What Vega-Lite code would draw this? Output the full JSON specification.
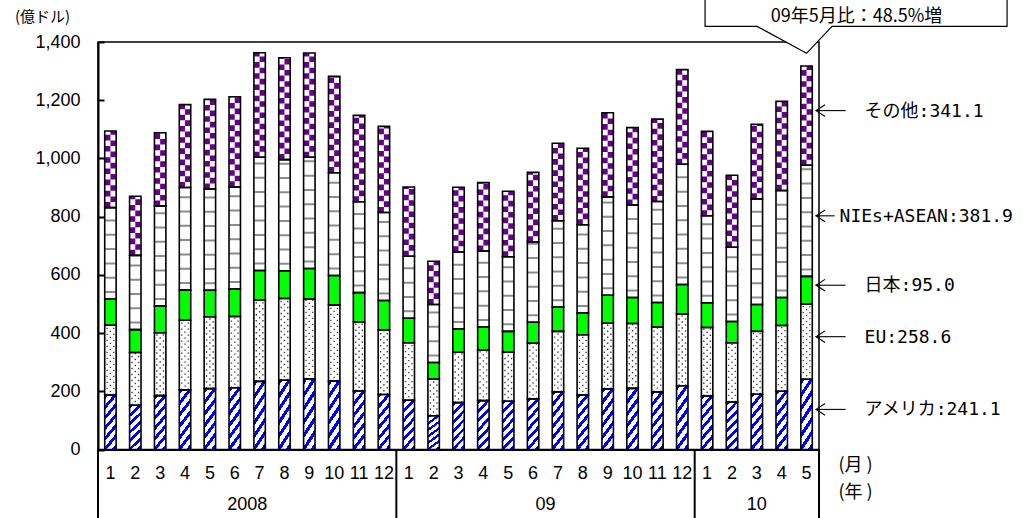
{
  "$schema": "https://vega.github.io/schema/vega-lite/v6.json",
  "width": 721,
  "height": 407.5,
  "autosize": {"type": "none"},
  "padding": {"left": 98, "top": 42, "right": 212, "bottom": 68.5},
  "background": "white",
  "config": {
    "view": {"stroke": "#000", "strokeWidth": 1.5},
    "font": "Liberation Sans",
    "axis": {"domainColor": "#000", "domainWidth": 2, "labelColor": "#000", "titleColor": "#000", "labelFont": "Liberation Sans", "titleFontWeight": "normal", "grid": false}
  },
  "data": {
    "values": [
      {"t": "2008-01", "us": 187, "eu": 240, "jp": 90, "nies": 314, "oth": 263},
      {"t": "2008-02", "us": 152, "eu": 181, "jp": 79, "nies": 255, "oth": 203},
      {"t": "2008-03", "us": 185, "eu": 216, "jp": 92, "nies": 343, "oth": 252},
      {"t": "2008-04", "us": 205, "eu": 239, "jp": 104, "nies": 352, "oth": 285},
      {"t": "2008-05", "us": 209, "eu": 247, "jp": 91, "nies": 348, "oth": 308},
      {"t": "2008-06", "us": 212, "eu": 245, "jp": 94, "nies": 351, "oth": 310},
      {"t": "2008-07", "us": 234, "eu": 279, "jp": 102, "nies": 389, "oth": 359},
      {"t": "2008-08", "us": 238, "eu": 281, "jp": 95, "nies": 382, "oth": 350},
      {"t": "2008-09", "us": 242, "eu": 275, "jp": 105, "nies": 382, "oth": 358},
      {"t": "2008-10", "us": 235, "eu": 261, "jp": 102, "nies": 353, "oth": 331},
      {"t": "2008-11", "us": 201, "eu": 237, "jp": 101, "nies": 312, "oth": 297},
      {"t": "2008-12", "us": 189, "eu": 222, "jp": 101, "nies": 302, "oth": 296},
      {"t": "2009-01", "us": 169, "eu": 198, "jp": 84, "nies": 213, "oth": 238},
      {"t": "2009-02", "us": 116, "eu": 126, "jp": 57, "nies": 199, "oth": 149},
      {"t": "2009-03", "us": 161, "eu": 173, "jp": 80, "nies": 265, "oth": 222},
      {"t": "2009-04", "us": 168, "eu": 173, "jp": 80, "nies": 261, "oth": 235},
      {"t": "2009-05", "us": 166, "eu": 169, "jp": 71, "nies": 256, "oth": 225.3},
      {"t": "2009-06", "us": 174, "eu": 191, "jp": 72, "nies": 276, "oth": 239},
      {"t": "2009-07", "us": 198, "eu": 208, "jp": 83, "nies": 297, "oth": 266},
      {"t": "2009-08", "us": 187, "eu": 207, "jp": 75, "nies": 303, "oth": 263},
      {"t": "2009-09", "us": 208, "eu": 226, "jp": 96, "nies": 338, "oth": 289},
      {"t": "2009-10", "us": 210, "eu": 223, "jp": 89, "nies": 318, "oth": 266},
      {"t": "2009-11", "us": 198, "eu": 223, "jp": 84, "nies": 347, "oth": 283},
      {"t": "2009-12", "us": 219, "eu": 246, "jp": 102, "nies": 413, "oth": 325},
      {"t": "2010-01", "us": 184, "eu": 235, "jp": 85, "nies": 299, "oth": 290},
      {"t": "2010-02", "us": 163, "eu": 204, "jp": 73, "nies": 255, "oth": 247},
      {"t": "2010-03", "us": 190, "eu": 216, "jp": 92, "nies": 363, "oth": 256},
      {"t": "2010-04", "us": 200, "eu": 226, "jp": 96, "nies": 368, "oth": 306},
      {"t": "2010-05", "us": 241.1, "eu": 258.6, "jp": 95.0, "nies": 381.9, "oth": 341.1}
    ]
  },
  "transform": [
    {"fold": ["us", "eu", "jp", "nies", "oth"], "as": ["key", "value"]},
    {"lookup": "key", "from": {"data": {"values": [
      {"key": "us", "name": "アメリカ", "order": 1},
      {"key": "eu", "name": "EU", "order": 2},
      {"key": "jp", "name": "日本", "order": 3},
      {"key": "nies", "name": "NIEs+ASEAN", "order": 4},
      {"key": "oth", "name": "その他", "order": 5}
    ]}, "key": "key", "fields": ["name", "order"]}},
    {"stack": "value", "groupby": ["t"], "sort": [{"field": "order", "order": "ascending"}], "as": ["v0", "v1"]},
    {"calculate": "(datum.v0 + datum.v1) / 2", "as": "mid"},
    {"calculate": "datum.name + ':' + format(datum.value, '.1f')", "as": "label"}
  ],
  "resolve": {"scale": {"x": "shared", "y": "shared"}, "axis": {"x": "independent", "y": "shared"}},
  "layer": [
    {
      "mark": {"type": "bar", "width": {"band": 0.46}},
      "encoding": {
        "x": {"field": "t", "type": "nominal", "scale": {"paddingInner": 0, "paddingOuter": 0},
          "axis": {"orient": "bottom", "title": "(月 )", "titleX": 740, "titleY": 15.5, "titleAlign": "left", "titleBaseline": "middle", "titleFont": "Noto Sans CJK JP", "titleFontSize": 18,
            "labelExpr": "'' + toNumber(slice(datum.value, 5))", "labelAngle": 0, "labelFontSize": 18, "labelPadding": 15, "ticks": false, "labelOverlap": false, "labelBound": false, "labelFlush": false}},
        "y": {"field": "v0", "type": "quantitative", "title": "(億ドル)", "scale": {"domain": [0, 1400], "nice": false},
          "axis": {"values": [0, 200, 400, 600, 800, 1000, 1200, 1400], "labelExpr": "format(datum.value, ',d')", "title": "(億ドル)", "titleAngle": 0, "titleX": -56, "titleY": -26, "titleAlign": "center", "titleBaseline": "middle", "titleFont": "Noto Sans CJK JP", "titleFontSize": 15,
            "labelFontSize": 18, "tickSize": -6, "tickWidth": 2, "tickColor": "#000", "labelPadding": 24}},
        "y2": {"field": "v1"},
        "fill": {"field": "key", "type": "nominal", "scale": {"domain": ["us", "eu", "jp", "nies", "oth"], "range": ["#ffffff", "#ffffff", "#00ff00", "#ffffff", "#ffffff"]}, "legend": null}
      }
    },
    {
      "transform": [{"filter": "datum.key == 'us'"}],
      "mark": {"type": "bar", "width": {"band": 0.46},
        "fill": {"gradient": "linear", "x1": 0, "y1": 0, "x2": 0.3, "y2": 1.2, "stops": [
          {"offset": 0, "color": "#0000ff"}, {"offset": 0.065, "color": "#0000ff"}, {"offset": 0.065, "color": "#ffffff"}, {"offset": 0.15, "color": "#ffffff"},
          {"offset": 0.15, "color": "#0000ff"}, {"offset": 0.215, "color": "#0000ff"}, {"offset": 0.215, "color": "#ffffff"}, {"offset": 0.3, "color": "#ffffff"},
          {"offset": 0.3, "color": "#0000ff"}, {"offset": 0.365, "color": "#0000ff"}, {"offset": 0.365, "color": "#ffffff"}, {"offset": 0.45, "color": "#ffffff"},
          {"offset": 0.45, "color": "#0000ff"}, {"offset": 0.515, "color": "#0000ff"}, {"offset": 0.515, "color": "#ffffff"}, {"offset": 0.6, "color": "#ffffff"},
          {"offset": 0.6, "color": "#0000ff"}, {"offset": 0.665, "color": "#0000ff"}, {"offset": 0.665, "color": "#ffffff"}, {"offset": 0.75, "color": "#ffffff"},
          {"offset": 0.75, "color": "#0000ff"}, {"offset": 0.815, "color": "#0000ff"}, {"offset": 0.815, "color": "#ffffff"}, {"offset": 0.9, "color": "#ffffff"},
          {"offset": 0.9, "color": "#0000ff"}, {"offset": 0.965, "color": "#0000ff"}, {"offset": 0.965, "color": "#ffffff"}, {"offset": 1, "color": "#ffffff"}
        ]}},
      "encoding": {
        "x": {"field": "t", "type": "nominal", "axis": null},
        "y": {"field": "v0", "type": "quantitative", "title": "(億ドル)"},
        "y2": {"field": "v1"}
      }
    },
    {
      "transform": [{"filter": "datum.key == 'eu'"}],
      "mark": {"type": "rule", "xOffset": -3.3, "stroke": "#444", "strokeWidth": 1.4, "strokeDash": [1.4, 4.6]},
      "encoding": {"x": {"field": "t", "type": "nominal", "axis": null}, "y": {"field": "v0", "type": "quantitative", "title": "(億ドル)"}, "y2": {"field": "v1"}}
    },
    {
      "transform": [{"filter": "datum.key == 'eu'"}],
      "mark": {"type": "rule", "xOffset": 0, "stroke": "#444", "strokeWidth": 1.4, "strokeDash": [1.4, 4.6], "strokeDashOffset": 3},
      "encoding": {"x": {"field": "t", "type": "nominal", "axis": null}, "y": {"field": "v0", "type": "quantitative", "title": "(億ドル)"}, "y2": {"field": "v1"}}
    },
    {
      "transform": [{"filter": "datum.key == 'eu'"}],
      "mark": {"type": "rule", "xOffset": 3.3, "stroke": "#444", "strokeWidth": 1.4, "strokeDash": [1.4, 4.6]},
      "encoding": {"x": {"field": "t", "type": "nominal", "axis": null}, "y": {"field": "v0", "type": "quantitative", "title": "(億ドル)"}, "y2": {"field": "v1"}}
    },
    {
      "transform": [{"filter": "datum.key == 'nies'"}],
      "mark": {"type": "rule", "stroke": "#8c8c8c", "strokeWidth": 10.5, "strokeDash": [2, 12.3], "strokeDashOffset": -6},
      "encoding": {"x": {"field": "t", "type": "nominal", "axis": null}, "y": {"field": "v0", "type": "quantitative", "title": "(億ドル)"}, "y2": {"field": "v1"}}
    },
    {
      "transform": [{"filter": "datum.key == 'oth'"}],
      "mark": {"type": "rule", "xOffset": -2.7, "stroke": "#660088", "strokeWidth": 5.4, "strokeDash": [5.6, 5.6]},
      "encoding": {"x": {"field": "t", "type": "nominal", "axis": null}, "y": {"field": "v0", "type": "quantitative", "title": "(億ドル)"}, "y2": {"field": "v1"}}
    },
    {
      "transform": [{"filter": "datum.key == 'oth'"}],
      "mark": {"type": "rule", "xOffset": 2.7, "stroke": "#660088", "strokeWidth": 5.4, "strokeDash": [5.6, 5.6], "strokeDashOffset": 5.6},
      "encoding": {"x": {"field": "t", "type": "nominal", "axis": null}, "y": {"field": "v0", "type": "quantitative", "title": "(億ドル)"}, "y2": {"field": "v1"}}
    },
    {
      "mark": {"type": "bar", "width": {"band": 0.46}, "fill": "transparent", "stroke": "#000", "strokeWidth": 1.6},
      "encoding": {
        "x": {"field": "t", "type": "nominal", "axis": null},
        "y": {"field": "v0", "type": "quantitative", "title": "(億ドル)"},
        "y2": {"field": "v1"}
      }
    },
    {
      "transform": [{"filter": "datum.key == 'us' && slice(datum.t, 5) == '01'"}],
      "mark": {"type": "rule", "stroke": "#000", "strokeWidth": 2},
      "encoding": {
        "x": {"field": "t", "type": "nominal", "bandPosition": 0,
          "axis": {"orient": "bottom", "domain": false, "ticks": false, "title": "(年 )", "titleX": 740, "titleY": 42.5, "titleAlign": "left", "titleBaseline": "middle", "titleFont": "Noto Sans CJK JP", "titleFontSize": 18,
            "labelExpr": "datum.value == '2008-06' ? '2008' : datum.value == '2009-06' ? '09' : datum.value == '2010-03' ? '10' : ''",
            "labelOffset": {"condition": {"test": "datum.value == '2010-03'", "value": 0}, "value": 12.43},
            "labelAngle": 0, "labelFontSize": 18, "labelPadding": 46, "labelOverlap": false, "labelBound": false, "labelFlush": false}},
        "y": {"datum": 0, "type": "quantitative", "title": "(億ドル)"},
        "y2": {"datum": -240}
      }
    },
    {
      "transform": [{"filter": "datum.key == 'us' && datum.t == '2010-05'"}],
      "mark": {"type": "rule", "stroke": "#000", "strokeWidth": 2},
      "encoding": {
        "x": {"field": "t", "type": "nominal", "bandPosition": 1, "axis": null},
        "y": {"datum": 0, "type": "quantitative", "title": "(億ドル)"},
        "y2": {"datum": -240}
      }
    },
    {
      "transform": [{"filter": "datum.t == '2010-05'"}],
      "mark": {"type": "rule", "stroke": "#000", "strokeWidth": 1.1, "xOffset": 9, "x2Offset": {"expr": "datum.key == 'nies' ? 28 : 39"}, "yOffset": -5, "y2Offset": -5},
      "encoding": {
        "x": {"field": "t", "type": "nominal", "axis": null},
        "x2": {"field": "t"},
        "y": {"field": "mid", "type": "quantitative", "title": "(億ドル)"},
        "y2": {"field": "mid"}
      }
    },
    {
      "transform": [{"filter": "datum.t == '2010-05'"}],
      "mark": {"type": "point", "shape": "M1,-1.3L-1,0L1,1.3", "size": 81, "filled": false, "stroke": "#000", "strokeWidth": 1.1, "opacity": 1, "xOffset": 14, "yOffset": -5},
      "encoding": {
        "x": {"field": "t", "type": "nominal", "axis": null},
        "y": {"field": "mid", "type": "quantitative", "title": "(億ドル)"}
      }
    },
    {
      "transform": [{"filter": "datum.t == '2010-05'"}],
      "mark": {"type": "text", "align": "left", "baseline": "middle", "dx": {"expr": "datum.key == 'nies' ? 33 : 58"}, "dy": -4, "font": "DejaVu Sans Mono, Noto Sans CJK JP", "fontSize": 18, "fill": "#000"},
      "encoding": {
        "x": {"field": "t", "type": "nominal", "axis": null},
        "y": {"field": "mid", "type": "quantitative", "title": "(億ドル)"},
        "text": {"field": "label"}
      }
    },
    {
      "transform": [{"filter": "datum.t == '2010-05' && datum.key == 'oth'"}],
      "mark": {"type": "point", "shape": "M-4.95,-3.96L-10.15,-3.96L-10.15,-8L20.05,-8L20.05,-3.96L2.55,-3.96L0,-1.26Z", "size": 400, "filled": true, "fill": "#fff", "stroke": "#000", "strokeWidth": 1.2, "opacity": 1},
      "encoding": {
        "x": {"field": "t", "type": "nominal", "axis": null},
        "y": {"field": "v1", "type": "quantitative", "title": "(億ドル)"}
      }
    },
    {
      "transform": [{"filter": "datum.t == '2010-05' && datum.key == 'oth'"}],
      "mark": {"type": "text", "text": "09年5月比：48.5%増", "align": "center", "baseline": "alphabetic", "dx": 50, "dy": -44, "font": "Noto Sans CJK JP", "fontSize": 18, "fill": "#000"},
      "encoding": {
        "x": {"field": "t", "type": "nominal", "axis": null},
        "y": {"field": "v1", "type": "quantitative", "title": "(億ドル)"}
      }
    }
  ]
}
